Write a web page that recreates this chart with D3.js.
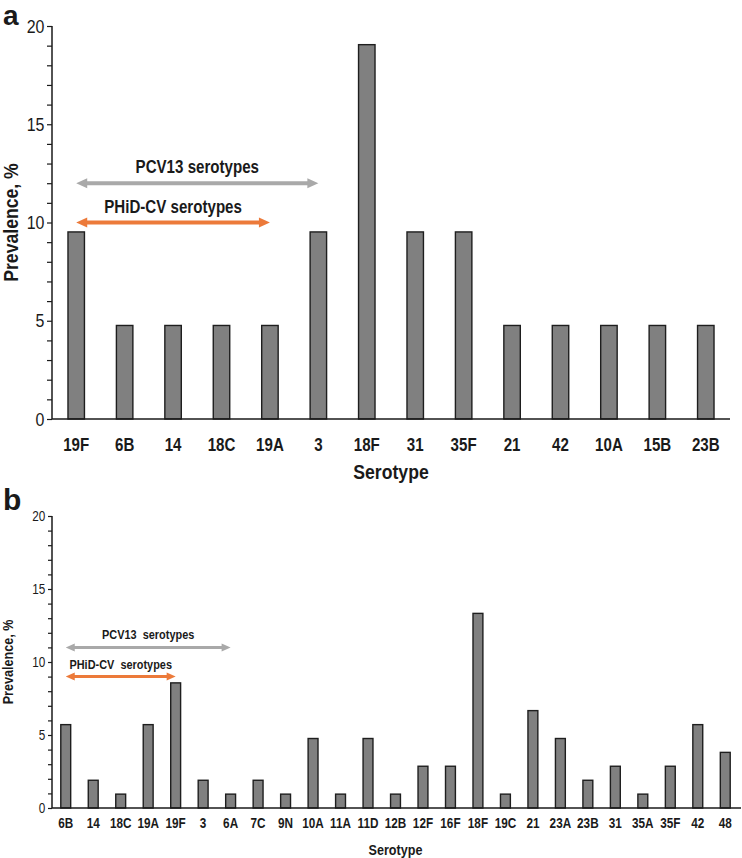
<!DOCTYPE html>
<html>
<head>
<meta charset="utf-8">
<title>Serotype prevalence</title>
<script src="https://cdn.jsdelivr.net/npm/d3@7/dist/d3.min.js"></script>
<style>
  body { margin: 0; background: #fff; }
  text { fill: #1a1a1a; }
</style>
</head>
<body>
<script>
// panel a
var serotypesA = ["19F", "6B", "14", "18C", "19A", "3", "18F", "31", "35F", "21", "42", "10A", "15B", "23B"]
var prevalenceA = [9.52, 4.76, 4.76, 4.76, 4.76, 9.52, 19.05, 9.52, 9.52, 4.76, 4.76, 4.76, 4.76, 4.76]
var arrowsA = [
  {label: "PCV13 serotypes", from: "19F", to: "3", at: 12, color: "#a9a9a9"},
  {label: "PHiD-CV serotypes", from: "19F", to: "19A", at: 10, color: "#ec7a3a"}
]

// panel b
var serotypesB = ["6B", "14", "18C", "19A", "19F", "3", "6A", "7C", "9N", "10A", "11A", "11D", "12B",
  "12F", "16F", "18F", "19C", "21", "23A", "23B", "31", "35A", "35F", "42", "48"]
var prevalenceB = [5.71, 1.9, 0.95, 5.71, 8.57, 1.9, 0.95, 1.9, 0.95, 4.76, 0.95, 4.76, 0.95,
  2.86, 2.86, 13.33, 0.95, 6.67, 4.76, 1.9, 2.86, 0.95, 2.86, 5.71, 3.81]
var arrowsB = [
  {label: "PCV13  serotypes", from: "6B", to: "6A", at: 11, color: "#a9a9a9"},
  {label: "PHiD-CV  serotypes", from: "6B", to: "19F", at: 9, color: "#ec7a3a"}
]

var yTicks = d3.range(0, 21)

var svg = d3.select("body").append("svg")
  .attr("width", 742)
  .attr("height", 858)

var font = "'Liberation Sans', Arial, Helvetica, sans-serif"
var squeeze = 0.84   // fake a narrow face

// text placed at (x, y), squeezed horizontally
function narrowText(g, x, y, size, bold, str, rotate) {
  return g.append("text")
    .attr("transform", "translate(" + x + "," + y + ")" + (rotate ? " rotate(-90)" : "") +
      " scale(" + squeeze + ",1)")
    .attr("text-anchor", "middle")
    .attr("font-family", font)
    .attr("font-weight", bold ? "bold" : "normal")
    .attr("font-size", size)
    .style("white-space", "pre")
    .text(str)
}

function panel(o) {
  var g = svg.append("g")

  var x = d3.scaleBand()
    .domain(o.cats)
    .range([o.left, o.right])
    .paddingInner(o.pad)
    .paddingOuter(o.pad / 2)

  var y = d3.scaleLinear()
    .domain([0, 20])
    .range([o.bottom, o.top])

  // bars
  g.selectAll("rect.bar")
    .data(o.vals)
    .enter().append("rect")
    .attr("class", "bar")
    .attr("x", function (d, i) { return x(o.cats[i]) })
    .attr("y", function (d) { return y(d) })
    .attr("width", x.bandwidth())
    .attr("height", function (d) { return y(0) - y(d) })
    .attr("fill", "#808080")
    .attr("stroke", "#1e1e1e")
    .attr("stroke-width", 1.4)

  // y axis
  var yAxis = g.append("g")
    .attr("transform", "translate(" + o.left + ",0)")
    .call(d3.axisLeft(y)
      .tickValues(yTicks)
      .tickSize(o.tick)
      .tickPadding(o.yPad)
      .tickFormat(function (d) { return d % 5 === 0 ? d : "" }))
  yAxis.select(".domain").attr("stroke", "#1a1a1a").attr("stroke-width", 1.5)
    .attr("d", "M0," + y(20) + "V" + y(0))
  yAxis.selectAll(".tick line").attr("stroke", "#1a1a1a").attr("stroke-width", 1.2)
  yAxis.selectAll(".tick text")
    .attr("font-family", font)
    .attr("font-size", o.tickFont)
    .attr("fill", "#1a1a1a")
    .attr("transform", "scale(" + squeeze + ",1)")

  // x axis
  var xAxis = g.append("g")
    .attr("transform", "translate(0," + y(0) + ")")
    .call(d3.axisBottom(x).tickSize(0).tickPadding(o.xPad))
  xAxis.select(".domain").attr("stroke", "#1a1a1a").attr("stroke-width", 1.5)
    .attr("d", "M" + o.left + ",0H" + o.axisEnd)
  xAxis.selectAll(".tick text")
    .attr("font-family", font)
    .attr("font-weight", "bold")
    .attr("font-size", o.xFont)
    .attr("fill", "#1a1a1a")
    .attr("transform", "scale(" + squeeze + ",1)")

  // titles
  narrowText(g, (o.left + o.right) / 2, o.xTitleY, o.titleFont, true, "Serotype")
  narrowText(g, o.yTitleX, (o.top + o.bottom) / 2, o.titleFont, true, "Prevalence, %", true)

  g.append("text")
    .attr("x", 3)
    .attr("y", o.letterY)
    .attr("font-family", font)
    .attr("font-weight", "bold")
    .attr("font-size", o.letterFont)
    .text(o.letter)

  // double-headed arrows
  o.arrows.forEach(function (a) {
    var x1 = x(a.from) + x.bandwidth() / 2,
      x2 = x(a.to) + x.bandwidth() / 2,
      yy = y(a.at),
      h = o.head, w = o.headW
    g.append("line")
      .attr("x1", x1 + h - 1).attr("x2", x2 - h + 1)
      .attr("y1", yy).attr("y2", yy)
      .attr("stroke", a.color)
      .attr("stroke-width", o.arrowW)
    g.append("path")
      .attr("d", "M" + x1 + "," + yy + "l" + h + "," + (-w) + "v" + (2 * w) + "Z" +
        "M" + x2 + "," + yy + "l" + (-h) + "," + (-w) + "v" + (2 * w) + "Z")
      .attr("fill", a.color)
    narrowText(g, (x1 + x2) / 2, yy - o.labelGap, o.arrowFont, true, a.label)
  })
}

panel({
  cats: serotypesA, vals: prevalenceA, arrows: arrowsA,
  left: 52, right: 730, axisEnd: 730, top: 26, bottom: 419, pad: 0.66,
  tick: 5, yPad: 4, tickFont: 19, xFont: 18, xPad: 19, titleFont: 21,
  xTitleY: 479, yTitleX: 18, letter: "a", letterY: 25, letterFont: 28,
  head: 11, headW: 5, arrowW: 4, arrowFont: 18, labelGap: 10
})

panel({
  cats: serotypesB, vals: prevalenceB, arrows: arrowsB,
  left: 52, right: 739, axisEnd: 741, top: 516, bottom: 808, pad: 0.64,
  tick: 4, yPad: 4, tickFont: 14, xFont: 14, xPad: 10, titleFont: 15,
  xTitleY: 855, yTitleX: 13, letter: "b", letterY: 510, letterFont: 30,
  head: 9, headW: 4, arrowW: 3, arrowFont: 13, labelGap: 8
})
</script>
</body>
</html>
